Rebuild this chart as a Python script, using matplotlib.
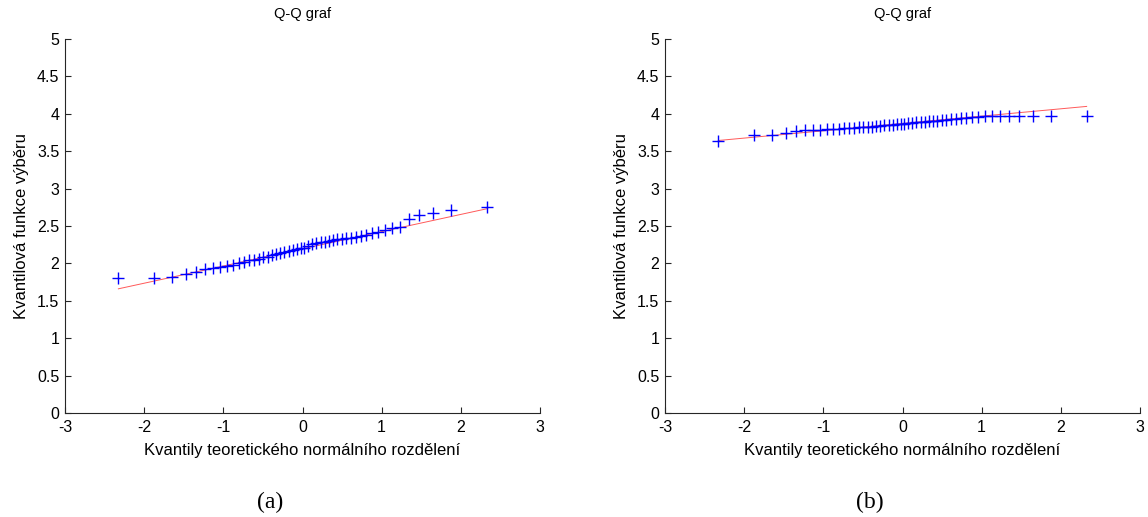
import numpy as np
import matplotlib
matplotlib.use("Agg")
import matplotlib.pyplot as plt

plt.rcParams['font.family'] = ['Liberation Sans', 'DejaVu Sans']

# Theoretical normal quantiles (50 points)
theor_q = [-2.326, -1.881, -1.645, -1.476, -1.341, -1.227, -1.126, -1.036, -0.954, -0.878,
           -0.806, -0.739, -0.674, -0.613, -0.553, -0.496, -0.440, -0.385, -0.332, -0.279,
           -0.228, -0.176, -0.126, -0.075, -0.025, 0.025, 0.075, 0.126, 0.176, 0.228,
           0.279, 0.332, 0.385, 0.440, 0.496, 0.553, 0.613, 0.674, 0.739, 0.806,
           0.878, 0.954, 1.036, 1.126, 1.227, 1.341, 1.476, 1.645, 1.881, 2.326]

sample_a = [1.80, 1.81, 1.82, 1.86, 1.89, 1.92, 1.94, 1.95, 1.96, 1.98,
            2.00, 2.02, 2.04, 2.05, 2.06, 2.08, 2.09, 2.11, 2.12, 2.14,
            2.15, 2.16, 2.18, 2.19, 2.20, 2.21, 2.23, 2.26, 2.27, 2.28,
            2.29, 2.30, 2.31, 2.32, 2.33, 2.34, 2.345, 2.35, 2.36, 2.38,
            2.41, 2.42, 2.44, 2.47, 2.49, 2.60, 2.65, 2.68, 2.72, 2.76]

sample_b = [3.64, 3.71, 3.72, 3.75, 3.77, 3.78, 3.79, 3.79, 3.80, 3.80,
            3.803, 3.804, 3.805, 3.815, 3.82, 3.82, 3.825, 3.83, 3.835, 3.84,
            3.845, 3.85, 3.855, 3.86, 3.865, 3.87, 3.875, 3.88, 3.885, 3.89,
            3.895, 3.90, 3.905, 3.91, 3.915, 3.92, 3.928, 3.937, 3.942, 3.947,
            3.952, 3.96, 3.965, 3.97, 3.972, 3.975, 3.975, 3.975, 3.975, 3.975]

panel_labels = ['(a)', '(b)']
title = 'Q-Q graf'
xlabel = 'Kvantily teoretického normálního rozdělení'
ylabel = 'Kvantilová funkce výběru'
xticks = [-3, -2, -1, 0, 1, 2, 3]
yticks = [0, 0.5, 1, 1.5, 2, 2.5, 3, 3.5, 4, 4.5, 5]
yticklabels = ['0', '0.5', '1', '1.5', '2', '2.5', '3', '3.5', '4', '4.5', '5']

fig = plt.figure(figsize=(11.48, 5.17), dpi=100)
W, H = 1148, 517
lefts = [65, 665]
for i, (samp, lab) in enumerate(zip([sample_a, sample_b], panel_labels)):
    ax = fig.add_axes([lefts[i] / W, 104 / H, 475 / W, 374 / H])
    x = np.array(theor_q)
    y = np.array(samp)
    # reference line through the first and third quartiles (as in qqplot)
    q1y, q3y = np.percentile(y, [25, 75], method='hazen')
    q1x, q3x = np.percentile(x, [25, 75], method='hazen')
    slope = (q3y - q1y) / (q3x - q1x)
    cy = q1y - slope * q1x
    lx = np.array([x.min(), x.max()])
    ax.plot(lx, cy + slope * lx, '-', color='#ff3030', lw=0.7, alpha=0.8, zorder=1)
    ax.plot(x, y, '+', color='#0000ff', ms=8, mew=1.0, zorder=2)
    ax.set_xlim(-3, 3)
    ax.set_ylim(0, 5)
    ax.set_xticks(xticks)
    ax.set_xticklabels([str(t) for t in xticks])
    ax.set_yticks(yticks)
    ax.set_yticklabels(yticklabels)
    for s in ['top', 'right']:
        ax.spines[s].set_visible(False)
    for s in ['left', 'bottom']:
        ax.spines[s].set_linewidth(0.8)
        ax.spines[s].set_color('#262626')
    ax.tick_params(direction='in', length=4, width=0.8, labelsize=11.5, colors='#262626', labelcolor='black')
    ax.tick_params(axis='x', pad=5)
    ax.tick_params(axis='y', pad=4)
    ax.set_title(title, fontsize=10.5, pad=15)
    ax.set_xlabel(xlabel, fontsize=12, labelpad=6)
    ax.set_ylabel(ylabel, fontsize=12, labelpad=6)
    fig.text((lefts[i] + 205) / W, 1 - 502 / H, lab, fontsize=17,
             family=['Liberation Serif', 'DejaVu Serif'], ha='center', va='center')

fig.savefig('out.png', dpi=100)
